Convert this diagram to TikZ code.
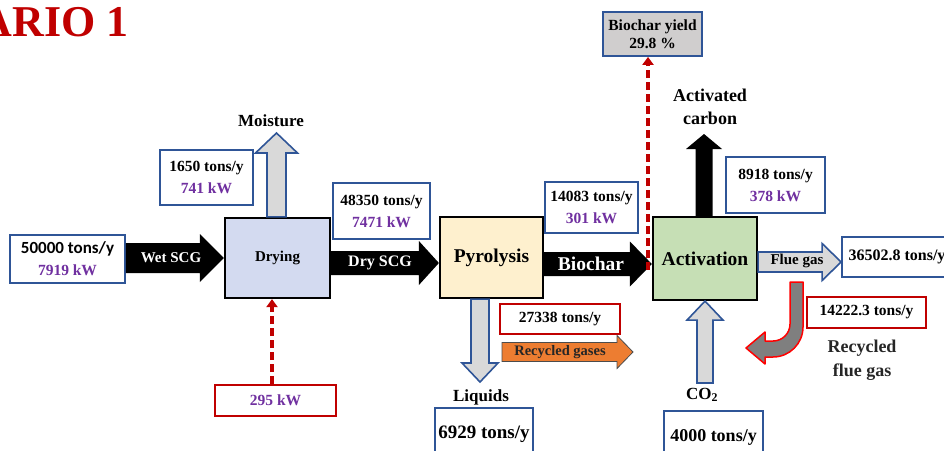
\documentclass[tikz,border=0pt]{standalone}
\usepackage{fontspec}
\setmainfont{Liberation Serif}
\newfontfamily\calibrifont{Carlito}
\usetikzlibrary{arrows.meta,calc}
\definecolor{boxblue}{HTML}{2F5597}
\definecolor{boxred}{HTML}{C00000}
\definecolor{kwpurple}{HTML}{7030A0}
\definecolor{dryfill}{HTML}{D3DAF0}
\definecolor{pyrofill}{HTML}{FEF0CE}
\definecolor{actfill}{HTML}{C6DFB5}
\definecolor{yieldfill}{HTML}{D0CECE}
\definecolor{hollowfill}{HTML}{D9D9D9}
\definecolor{orangefill}{HTML}{ED7D31}
\definecolor{titlered}{HTML}{C00000}
\definecolor{recyclefill}{HTML}{7F7F7F}
\definecolor{darktext}{HTML}{262626}
\newcommand\valfont{\fontsize{15.5}{22}\selectfont\bfseries}
% right-pointing block arrow: start, tip, shaft half, head half, head length, style
\newcommand\blkR[6]{\path[#6] let \p1=(#1),\p2=(#2) in (\x1,{\y2+#3}) -- ({\x2-#5},{\y2+#3}) -- ({\x2-#5},{\y2+#4}) -- (\x2,\y2) -- ({\x2-#5},{\y2-#4}) -- ({\x2-#5},{\y2-#3}) -- (\x1,{\y2-#3}) -- cycle;}
% upward block arrow
\newcommand\blkU[6]{\path[#6] let \p1=(#1),\p2=(#2) in ({\x2-#3},\y1) -- ({\x2-#3},{\y2-#5}) -- ({\x2-#4},{\y2-#5}) -- (\x2,\y2) -- ({\x2+#4},{\y2-#5}) -- ({\x2+#3},{\y2-#5}) -- ({\x2+#3},\y1) -- cycle;}
% downward block arrow
\newcommand\blkD[6]{\path[#6] let \p1=(#1),\p2=(#2) in ({\x2-#3},\y1) -- ({\x2-#3},{\y2+#5}) -- ({\x2-#4},{\y2+#5}) -- (\x2,\y2) -- ({\x2+#4},{\y2+#5}) -- ({\x2+#3},{\y2+#5}) -- ({\x2+#3},\y1) -- cycle;}
\begin{document}
\begin{tikzpicture}[x=1pt,y=-1pt,
  valbox/.style={draw=boxblue,line width=1.8pt,fill=white,inner sep=0pt,align=center,font=\valfont},
  redbox/.style={valbox,draw=boxred},
  process/.style={draw=black,line width=2.2pt,inner sep=0pt},
  blackarrow/.style={fill=black},
  hollowarrow/.style={fill=hollowfill,draw=boxblue,line width=1.6pt},
  dashedred/.style={draw=boxred,line width=3.2pt,dash pattern=on 8pt off 4pt,-{Triangle[length=8pt,width=11pt]}},
  lbl/.style={inner sep=0pt,align=center},
  whitelbl/.style={inner sep=0pt,text=white}
]
\useasboundingbox (0,0) rectangle (944,450);

% title
\node[anchor=base east,inner sep=0pt,font=\fontsize{44}{44}\selectfont\bfseries,text=titlered] (title) at (129,36) {ARIO 1};

% nodes
\node[valbox,minimum width=115pt,minimum height=48pt] (in50) at (67.5,259)
  {{\calibrifont\fontsize{17}{22}\selectfont\bfseries 50000 tons/y}\\\textcolor{kwpurple}{7919 kW}};
\node[process,fill=dryfill,minimum width=105pt,minimum height=80pt,font=\fontsize{15}{18}\selectfont\bfseries] (dry) at (277.5,258) {Drying};
\node[valbox,minimum width=93pt,minimum height=55pt] (moist) at (206.5,177.5) {1650 tons/y\\\textcolor{kwpurple}{741 kW}};
\node[lbl,font=\fontsize{17}{18}\selectfont\bfseries] (moistlbl) at (271,121) {Moisture};
\node[valbox,minimum width=97pt,minimum height=56pt] (dscg) at (381.5,211) {48350 tons/y\\\textcolor{kwpurple}{7471 kW}};
\node[process,fill=pyrofill,minimum width=103pt,minimum height=81pt,font=\fontsize{19.5}{22}\selectfont\bfseries] (pyro) at (491.5,257.5) {Pyrolysis};
\node[valbox,minimum width=93pt,minimum height=51pt] (bchar) at (591.5,207.5) {14083 tons/y\\\textcolor{kwpurple}{301 kW}};
\node[valbox,fill=yieldfill,minimum width=99pt,minimum height=44pt,font=\fontsize{15.5}{18}\selectfont\bfseries] (yield) at (652.5,34) {Biochar yield\\29.8 \%};
\node[process,fill=actfill,minimum width=104pt,minimum height=83pt,font=\fontsize{19.5}{22}\selectfont\bfseries] (act) at (705,258.5) {Activation};
\node[lbl,font=\fontsize{18}{23}\selectfont\bfseries] (aclbl) at (710,107) {Activated\\carbon};
\node[valbox,minimum width=99pt,minimum height=56pt] (acbox) at (775.5,185) {8918 tons/y\\\textcolor{kwpurple}{378 kW}};
\node[valbox,minimum width=110pt,minimum height=40pt,font=\fontsize{16}{19}\selectfont\bfseries] (flue) at (897,257) {36502.8 tons/y};
\node[redbox,minimum width=119pt,minimum height=31pt] (rflue) at (866.5,312.5) {14222.3 tons/y};
\node[lbl,font=\fontsize{18}{24}\selectfont\bfseries,text=darktext] (rflbl) at (862,360) {Recycled\\flue gas};
\node[lbl,font=\fontsize{17}{20}\selectfont\bfseries] (co2lbl) at (702,395) {CO\textsubscript{2}};
\node[valbox,minimum width=99pt,minimum height=52pt,font=\fontsize{18}{20}\selectfont\bfseries] (co2box) at (713.5,437) {4000 tons/y};
\node[lbl,font=\fontsize{17}{20}\selectfont\bfseries] (liqlbl) at (481,397) {Liquids};
\node[valbox,minimum width=98pt,minimum height=52pt,font=\fontsize{19}{20}\selectfont\bfseries] (liqbox) at (484,434) {6929 tons/y};
\node[redbox,minimum width=120pt,minimum height=30pt] (rgas) at (560,319) {27338 tons/y};
\node[redbox,minimum width=121pt,minimum height=31pt,text=kwpurple] (heat) at (275.5,400.5) {295 kW};

% free ends
\coordinate (moisttip) at (276.5,133);
\coordinate (actip) at (704,134);
\coordinate (liqtip) at (480,382);
\coordinate (co2start) at (704.5,383);
\coordinate (rg1) at (502,352);
\coordinate (rg2) at (633,352);
\coordinate (bcy) at (648,270);

% block arrows
\blkR{in50.east}{dry.west}{15pt}{24pt}{24pt}{blackarrow}
\blkR{dry.east}{[yshift=-5.5pt]pyro.west}{12pt}{22pt}{20pt}{blackarrow}
\blkR{pyro.east}{[yshift=-5.5pt]act.west}{12pt}{22.5pt}{22pt}{blackarrow}
\blkR{act.east}{[yshift=-5pt]flue.west}{10pt}{18.5pt}{19pt}{hollowarrow}
\blkU{act.north}{actip}{8.5pt}{18pt}{15pt}{blackarrow}
\blkU{dry.north}{moisttip}{9.5pt}{21pt}{20pt}{hollowarrow}
\blkD{pyro.south}{liqtip}{9pt}{18pt}{19pt}{hollowarrow}
\blkU{co2start}{act.south}{8pt}{18pt}{19pt}{hollowarrow}
\blkR{rg1}{rg2}{9.5pt}{16.5pt}{16pt}{fill=orangefill,draw=black!70,line width=0.8pt}

% recycled flue gas bent arrow
\draw[fill=recyclefill,draw=red,line width=1.5pt,line join=round] (790,282) -- (803,282) -- (803,327)
  arc[start angle=0,end angle=-90,radius=30pt] -- (765,357) -- (765,364) -- (746,348) -- (765,332) -- (765,341) -- (773,341)
  arc[start angle=-90,end angle=0,radius=17pt] -- cycle;

% arrow labels
\node[whitelbl,font=\fontsize{15}{18}\selectfont\bfseries] (wetlbl) at (171,258) {Wet SCG};
\node[whitelbl,font=\fontsize{16}{18}\selectfont\bfseries] (drylbl) at (380,263) {Dry SCG};
\node[whitelbl,font=\fontsize{19.5}{22}\selectfont\bfseries] (bclbl) at (591,264) {Biochar};
\node[lbl,font=\fontsize{15}{16}\selectfont\bfseries] (fluelbl) at (797,261) {Flue gas};
\node[lbl,font=\fontsize{14.5}{16}\selectfont\bfseries,text=black!85] (rglbl) at (560,352) {Recycled gases};

% dashed red arrows
\draw[dashedred] (bcy) -- (bcy |- yield.south);
\draw[dashedred] ([xshift=-3.5pt]heat.north) -- ([xshift=-3.5pt]heat.north |- dry.south);
\end{tikzpicture}
\end{document}
